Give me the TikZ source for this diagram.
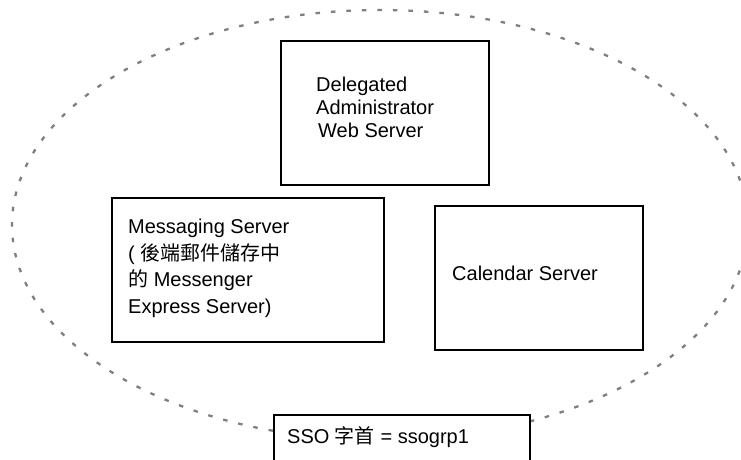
\documentclass[tikz,border=0pt]{standalone}
\usepackage{fontspec}
\setmainfont{Liberation Sans}
\newfontfamily\cjk{Noto Sans CJK TC}
\usetikzlibrary{positioning}
\definecolor{ringgray}{HTML}{7F7F7F}
\tikzset{>=stealth}

\begin{document}
\begin{tikzpicture}[x=1pt,y=-1pt,
    ring/.style={ringgray, line width=2.3pt, dash pattern=on 4.5pt off 11pt},
    srvbox/.style={draw, line width=2pt, fill=white, inner sep=0pt, minimum height=144pt},
    lbl/.style={align=left, inner sep=0pt, anchor=base west, font=\fontsize{20pt}{#1}\selectfont},
    lbl/.default=23pt]

    \useasboundingbox (0,0) rectangle (741,460);
    \clip (0,0) rectangle (741,460);

    % SSO domain
    \draw[ring] (380,225) ellipse [x radius=368, y radius=215];

    \node[srvbox, minimum width=208pt] (dabox) at (385,113) {};
    \node[srvbox, minimum width=272pt] (msgbox) at (248,270) {};
    \node[srvbox, minimum width=208pt] (calbox) at (539,278) {};
    \node[srvbox, minimum width=256pt, minimum height=80pt] (ssobox) at (402,455) {};

    % base anchor sits on the last line
    \node[lbl] (datext) at (316,137) {Delegated\\Administrator\\\hspace*{2pt}Web Server};
    \node[lbl=26.5pt] (msgtext) at (128,313) {Messaging Server\\( {\cjk 後端郵件儲存中}\\{\cjk 的} Messenger\\Express Server)};
    \node[lbl] (caltext) at (452,280) {Calendar Server};
    \node[lbl] (ssotext) at (287,443) {SSO {\cjk 字首} = ssogrp1};
\end{tikzpicture}
\end{document}
